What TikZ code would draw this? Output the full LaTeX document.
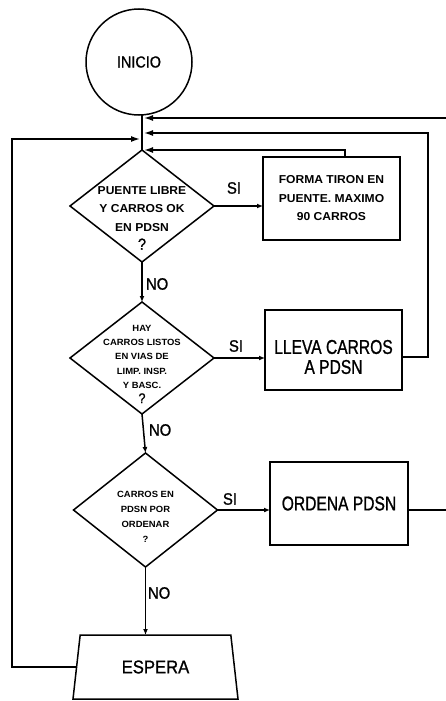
\documentclass[tikz,border=0pt]{standalone}
\usepackage{fontspec}
\setmainfont{Liberation Sans}
\newfontfamily\fReg[FakeStretch=0.9,FakeBold=1]{Liberation Sans}
\newfontfamily\fCond[FakeStretch=0.78,FakeBold=1]{Liberation Sans}
\newfontfamily\fBld[FakeStretch=1.05]{Liberation Sans}
\usetikzlibrary{shapes.geometric,arrows.meta,calc}
\begin{document}
\begin{tikzpicture}[x=1pt,y=-1pt,
  line width=1.5pt,
  every node/.style={inner sep=0pt, outer sep=0pt},
  box/.style={draw, rectangle},
  dia/.style={draw, diamond, minimum width=144pt, minimum height=112pt},
  arr/.style={-{Latex[length=9pt,width=6pt]}, shorten >=2pt},
  dot/.style={-{Latex[length=6pt,width=5pt]}},
  lbl/.style={font=\fReg\fontsize{16.5}{18}\selectfont},
  big/.style={font=\fCond\fontsize{20}{20}\selectfont, align=center},
  bt/.style={font=\fBld\bfseries\fontsize{11.5}{18.5}\selectfont, align=center},
  st/.style={font=\fBld\bfseries\fontsize{9}{14.4}\selectfont, align=center},
]
\useasboundingbox (0,0) rectangle (446,701);
\clip (0,0) rectangle (446,701);

% nodes
\node[circle, draw, minimum size=106pt, font=\fReg\fontsize{16}{16}\selectfont] (ini) at (139,62) {INICIO};

\node[dia] (d1) at (142,206) {};
\node[bt] (d1t) at (142,218) {PUENTE LIBRE\\Y CARROS OK\\EN PDSN\\{\fReg\mdseries\fontsize{16}{16}\selectfont ?}};

\node[box, minimum width=137pt, minimum height=83pt, bt] (b1) at (331.5,198.5) {FORMA TIRON EN\\PUENTE. MAXIMO\\90 CARROS};

\node[dia] (d2) at (142,358) {};
\node[st] (d2t) at (142,364) {HAY\\CARROS LISTOS\\EN VIAS DE\\LIMP. INSP.\\Y BASC.\\{\fReg\mdseries\fontsize{14}{14}\selectfont ?}};

\node[box, minimum width=137pt, minimum height=80pt] (b2) at (333.5,350) {};
\node[big] (b2t) at (333.5,357) {LLEVA CARROS\\A PDSN};

\node[dia, minimum height=114pt] (d3) at (145.5,510) {};
\node[st, font=\fBld\bfseries\fontsize{9}{15}\selectfont] (d3t) at (145.5,517) {CARROS EN\\PDSN POR\\ORDENAR\\?};

\node[box, minimum width=138pt, minimum height=83pt, big] (b3) at (339,503.5) {ORDENA PDSN};

\node[draw, trapezium, trapezium angle=61.3, trapezium stretches body,
      minimum width=165pt, minimum height=64pt,
      font=\fReg\fontsize{18.5}{18.5}\selectfont] (esp) at (155.5,667) {ESPERA};

% labels
\node[lbl, anchor=west] (no1) at (146,284) {NO};
\node[lbl, anchor=west] (no2) at (149,430) {NO};
\node[lbl, anchor=west] (no3) at (148,593) {NO};
\node[lbl] (si1) at (234,188) {SI};
\node[lbl] (si2) at (236,346) {SI};
\node[lbl] (si3) at (230,499) {SI};

% main line and loop returns
\draw (d1.north |- ini.south) -- (d1.north);
\draw[arr] (b3.east |- d3.east) -- (449,510) -- (449,118) -- (d1.north |- 0,118);
\draw[arr] ([yshift=-7pt]b2.east) -| (428,133) -- (d1.north |- 0,133);
\draw[arr] ([xshift=13.5pt]b1.north) |- (d1.north |- 0,150);
\draw[arr] (esp.west) -| (12,139) -- (d1.north |- 0,139);

% SI connectors
\draw[dot] (d1.east) -- (d1.east -| b1.west);
\draw[dot] (d2.east) -- (d2.east -| b2.west);
\draw[dot] (d3.east) -- (d3.east -| b3.west);

% NO connectors
\draw[dot] (d1.south) -- (d2.north);
\draw[dot] (d2.south) -- (d3.north);
\draw[dot] (d3.south) -- (d3.south |- esp.north);
\end{tikzpicture}
\end{document}
